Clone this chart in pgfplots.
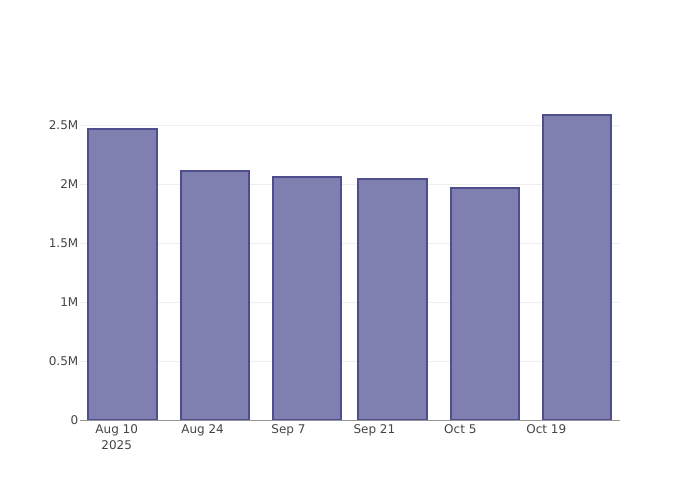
\documentclass[border=0pt]{standalone}
\usepackage{pgfplots}
\pgfplotsset{compat=1.18}
\usepackage{fontspec}
\setmainfont{DejaVu Sans}

\definecolor{barfill}{RGB}{127,127,176}
\definecolor{baredge}{RGB}{78,78,143}
\definecolor{gridgray}{RGB}{238,238,238}
\definecolor{axisgray}{RGB}{150,150,150}
\definecolor{txt}{RGB}{68,68,68}

\begin{document}
\begin{tikzpicture}
	\begin{axis}[
			scale only axis,
			width=540pt, height=320pt,
			xmin=-5.98, xmax=82.02,
			ymin=0, ymax=2716350,
			ybar, bar shift=0pt,
			bar width=11.2,
			axis line style={draw=none},
			major tick length=0pt,
			xtick={0,14,28,42,56,70},
			xticklabels={{Aug 10\\2025},{Aug 24},{Sep 7},{Sep 21},{Oct 5},{Oct 19}},
			ytick={0,500000,1000000,1500000,2000000,2500000},
			yticklabels={0,0.5M,1M,1.5M,2M,2.5M},
			scaled y ticks=false,
			ymajorgrids,
			grid style={gridgray, line width=0.8pt},
			tick label style={font=\fontsize{12}{16}\selectfont, text=txt, inner sep=0pt},
			xticklabel style={anchor=north, align=center, yshift=-4.3pt},
			yticklabel style={anchor=east, xshift=-1.5pt},
		]
		\addplot[fill=barfill, draw=baredge, line width=2pt] coordinates {
				(1,2473000) (16,2114000) (31,2065000) (45,2048000) (60,1969000) (75,2587000)
			};
		\draw[axisgray, line width=1pt] (rel axis cs:0,0) -- (rel axis cs:1,0);
	\end{axis}
	\path (current axis.south west) ++(-80pt,-80pt) rectangle ++(700pt,500pt);
\end{tikzpicture}
\end{document}
